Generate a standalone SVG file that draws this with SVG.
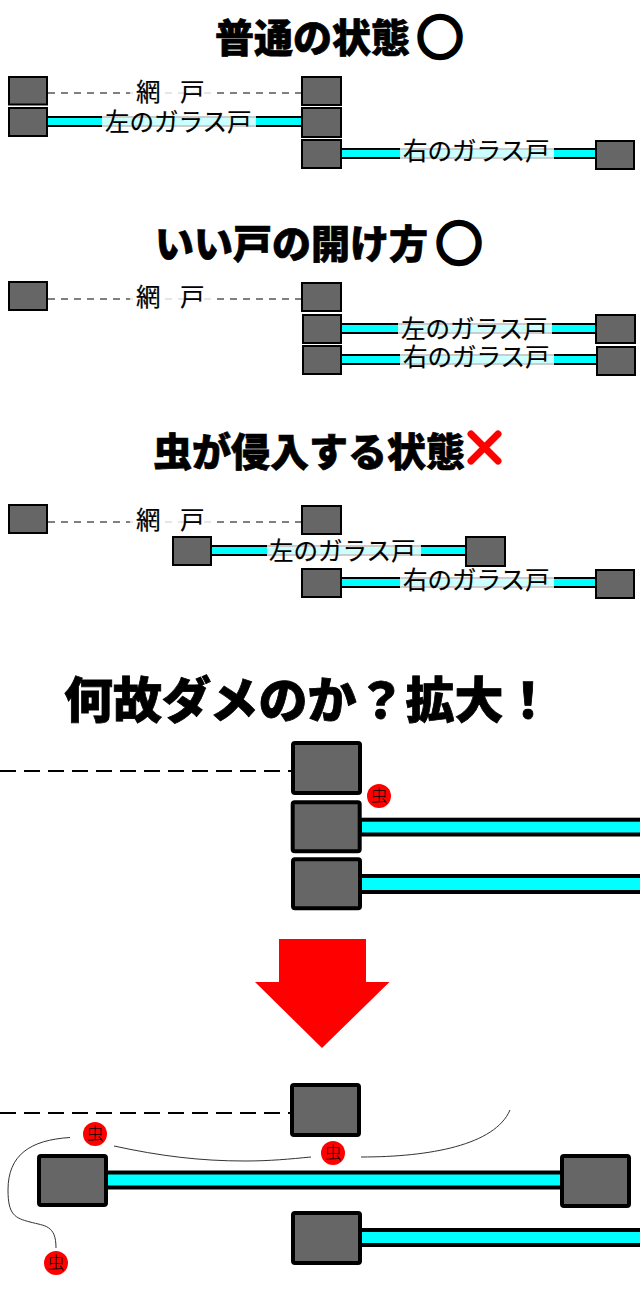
<svg xmlns="http://www.w3.org/2000/svg" width="640" height="1294" viewBox="0 0 640 1294">
<defs><style>
text{font-family:"Noto Sans CJK JP","Noto Sans CJK SC",sans-serif;fill:#000}
.t{font-size:39px;font-weight:900;stroke:#000;stroke-width:.7}
.o{font-size:46px;font-weight:900;stroke:#000;stroke-width:4}
.big{font-size:49px;font-weight:900;stroke:#000;stroke-width:.8}
.l{font-size:24.500px;stroke:#000;stroke-width:.2}
.bug{font-size:17px;text-anchor:middle;font-weight:300}
.p{fill:#666;stroke:#000;stroke-width:2;}
.P{fill:#666;stroke:#000;stroke-width:4;}
.rail{fill:#0ff;stroke:#000;stroke-width:2}
.Rail{fill:#0ff;stroke:#000;stroke-width:4}
.d{fill:none;stroke:#000;stroke-width:1;stroke-dasharray:7 6}
.D{fill:none;stroke:#000;stroke-width:2;stroke-dasharray:16 8}
.bg{fill:#fff;fill-opacity:.8}
.c{fill:none;stroke:#333;stroke-width:1}
.b{fill:#f00}
</style></defs>
<rect width="640" height="1294" fill="#fff"/>
<g id="connectors">
<path class="d" d="M48 93H302"/><path class="d" d="M48 299H302"/><path class="d" d="M48 522H302"/>
<rect class="rail" x="47" y="117" width="255" height="9"/>
<rect class="rail" x="341" y="149" width="255" height="9"/>
<rect class="rail" x="341" y="324" width="255" height="9"/>
<rect class="rail" x="341" y="355" width="256" height="9"/>
<rect class="rail" x="211" y="546" width="255" height="9"/>
<rect class="rail" x="341" y="578" width="255" height="9"/>
<path class="D" d="M0 771H292"/>
<rect class="Rail" x="360" y="819.700" width="284" height="14.800"/>
<rect class="Rail" x="360" y="876" width="284" height="16"/>
<path class="D" d="M0 1113H291"/>
<rect class="Rail" x="106" y="1172.500" width="456" height="15"/>
<rect class="Rail" x="360" y="1230" width="284" height="15"/>
<path class="c" d="M70 1137.500C30 1140 8 1155 8 1190C8 1215 15 1218 30 1222C45 1226 56 1225 56 1248"/>
<path class="c" d="M114 1146C160 1156 200 1161 245 1161C270 1161 290 1159 311 1157"/>
<path class="c" d="M361 1157C430 1157 495 1145 510 1110"/>
</g>
<g id="title1"><text class="t" x="215" y="52">普通の状態</text><text class="o" x="417" y="53.500">○</text></g>
<g id="title2"><text class="t" x="155" y="258">いい戸の開け方</text><text class="o" x="436" y="259.500">○</text></g>
<g id="title3"><text class="t" x="153" y="466">虫が侵入する状態</text></g>
<g id="cross"><path d="M471 434L498 461M498 434L471 461" fill="none" stroke="#f00" stroke-width="7" stroke-linecap="round"/></g>
<g id="title4"><text class="big" x="64" y="718">何故ダメのか？拡大！</text></g>
<g id="labels">
<rect class="bg" x="130" y="80" width="87" height="26"/><text class="l" x="136 160 180" y="101">網 戸</text>
<rect class="bg" x="130" y="286" width="87" height="26"/><text class="l" x="136 160 180" y="306">網 戸</text>
<rect class="bg" x="130" y="509" width="87" height="26"/><text class="l" x="136 160 180" y="529">網 戸</text>
<rect class="bg" x="102" y="110" width="154" height="26"/><text class="l" x="105" y="131">左のガラス戸</text>
<rect class="bg" x="400" y="142" width="154" height="26"/><text class="l" x="403" y="160">右のガラス戸</text>
<rect class="bg" x="398" y="317" width="154" height="26"/><text class="l" x="401" y="338">左のガラス戸</text>
<rect class="bg" x="400" y="348" width="154" height="26"/><text class="l" x="403" y="366">右のガラス戸</text>
<rect class="bg" x="267" y="538" width="154" height="26"/><text class="l" x="269" y="560">左のガラス戸</text>
<rect class="bg" x="400" y="571" width="154" height="26"/><text class="l" x="403" y="589">右のガラス戸</text>
</g>
<g id="posts1"><rect class="p" x="9" y="77" width="38" height="27.500"/><rect class="p" x="302" y="77" width="39" height="28"/><rect class="p" x="9" y="108" width="38" height="28"/><rect class="p" x="302" y="108" width="39" height="29"/><rect class="p" x="302" y="140" width="39" height="28"/><rect class="p" x="596" y="141" width="38" height="28"/></g>
<g id="posts2"><rect class="p" x="9" y="282" width="38" height="28"/><rect class="p" x="302" y="283" width="39" height="28"/><rect class="p" x="303" y="315" width="38" height="28"/><rect class="p" x="596" y="315" width="39" height="28"/><rect class="p" x="303" y="346" width="38" height="28"/><rect class="p" x="597" y="347" width="38" height="28"/></g>
<g id="posts3"><rect class="p" x="9" y="505" width="38" height="28"/><rect class="p" x="302" y="506" width="39" height="28"/><rect class="p" x="173" y="537" width="38" height="28"/><rect class="p" x="466" y="537" width="39" height="29"/><rect class="p" x="302" y="569" width="39" height="28"/><rect class="p" x="596" y="570" width="38" height="28"/></g>
<g id="posts-zoom1"><rect class="P" x="293" y="743" width="67" height="50" rx="2"/><rect class="P" x="292.700" y="802.300" width="67" height="49" rx="2"/><rect class="P" x="293" y="859.300" width="67" height="49" rx="2"/></g>
<g id="arrow"><path fill="#f00" d="M279 939H366V982H389.500L322 1048L255 982H279Z"/></g>
<g id="posts-zoom2"><rect class="P" x="292" y="1085" width="67" height="50" rx="2"/><rect class="P" x="39" y="1156" width="67" height="49" rx="2"/><rect class="P" x="562" y="1156" width="67" height="50" rx="2"/><rect class="P" x="293" y="1213" width="67" height="50" rx="2"/></g>
<g id="bug1"><circle class="b" cx="379" cy="796" r="12"/><text class="bug" x="379" y="802">虫</text></g>
<g id="bug2"><circle class="b" cx="95" cy="1134" r="12"/><text class="bug" x="95" y="1140">虫</text></g>
<g id="bug3"><circle class="b" cx="333" cy="1153" r="12"/><text class="bug" x="333" y="1159">虫</text></g>
<g id="bug4"><circle class="b" cx="56" cy="1263" r="12"/><text class="bug" x="56" y="1269">虫</text></g>
</svg>
